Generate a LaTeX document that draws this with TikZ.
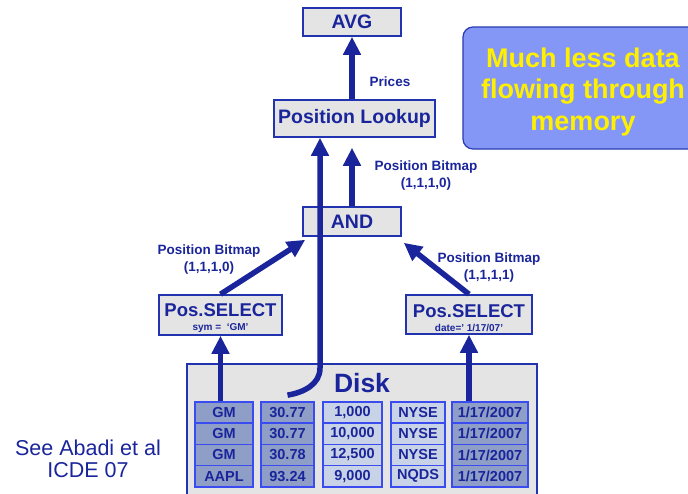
\documentclass[tikz,border=0pt]{standalone}
\usepackage{fontspec}
\setmainfont{Liberation Sans}
\usetikzlibrary{arrows.meta}
\usetikzlibrary{calc}
\definecolor{navy}{HTML}{1A259B}
\definecolor{boxblue}{HTML}{2233B0}
\definecolor{boxgray}{HTML}{E4E4E4}
\definecolor{cellblue}{HTML}{3A4BF0}
\definecolor{celldark}{HTML}{8E9EC6}
\definecolor{celllight}{HTML}{C9D3E7}
\definecolor{callblue}{HTML}{8497F7}
\definecolor{calledge}{HTML}{2A3BB0}
\definecolor{callyellow}{HTML}{FFF000}

\tikzset{
  opbox/.style={draw=boxblue, line width=1.6pt, fill=boxgray, inner sep=0pt,
    text=navy, align=center, font=\bfseries\fontsize{19.5}{21}\selectfont},
  selbox/.style={opbox, font=\bfseries\fontsize{18.5}{20}\selectfont},
  flow/.style={draw=navy, line width=5.5pt, -{Triangle[width=17pt,length=18pt]}},
  lbl/.style={text=navy, align=center, font=\bfseries\fontsize{13.5}{17}\selectfont},
  cell/.style={draw=cellblue, line width=1.4pt, minimum height=21.25pt, inner sep=0pt,
    text=navy, font=\bfseries\fontsize{14.5}{15}\selectfont},
  dcell/.style={cell, fill=celldark},
  lcell/.style={cell, fill=celllight}
}

\begin{document}
\begin{tikzpicture}[x=1pt,y=1pt]
  \useasboundingbox (0,0) rectangle (688,-493);
  \clip (0,0) rectangle (688,-493);

  % operators
  \node[opbox, minimum width=98pt, minimum height=28pt] (avg) at (352,-22) {AVG};
  \node[opbox, minimum width=161pt, minimum height=37pt] (look) at (354.5,-118.5) {Position Lookup};
  \node[opbox, minimum width=98pt, minimum height=29pt] (and) at (352,-221.5) {AND};
  \node[selbox, minimum width=123pt, minimum height=40pt] (lsel) at (220.5,-315)
    {\rule{0pt}{20pt}Pos.SELECT\\[-6pt]{\fontsize{10}{11}\selectfont sym =~ `GM'}};
  \node[selbox, minimum width=126pt, minimum height=39pt] (rsel) at (469,-314.5)
    {\rule{0pt}{20pt}Pos.SELECT\\[-6pt]{\fontsize{10}{11}\selectfont date=' 1/17/07'}};

  % disk with its columns
  \draw[draw=boxblue, line width=1.6pt, fill=boxgray] (187,-364) rectangle (537,-510);
  \node[text=navy, font=\bfseries\fontsize{26.5}{28}\selectfont] (disk) at (362,-383) {Disk};
  \foreach \name/\cx/\w/\sty/\vals in {
      sym/224/58/dcell/{GM,GM,GM,AAPL},
      price/287.5/53/dcell/{30.77,30.77,30.78,93.24},
      vol/352.5/59/lcell/{{1,000},{10,000},{12,500},{9,000}},
      exch/418/54/lcell/{NYSE,NYSE,NYSE,NQDS},
      date/490/76/dcell/{1/17/2007,1/17/2007,1/17/2007,1/17/2007}}{
    \foreach \v [count=\r] in \vals
      \node[\sty, minimum width=\w pt] (\name\r) at (\cx,{-412.5-21.25*(\r-1)}) {\v};
  }

  % flows
  \draw[flow] (avg.south |- look.north) -- (avg.south);
  \node[lbl] (prices) at (390,-82) {Prices};
  \draw[flow, shorten >=10pt] (and.north) -- (and.north |- look.south);
  \node[lbl] (bm1) at (426,-175.5) {Position Bitmap\\(1,1,1,0)};
  \draw[flow] (lsel.north) -- ([shift={(3,-3)}]and.south west);
  \node[lbl] (bm2) at (209,-259.5) {Position Bitmap\\(1,1,1,0)};
  \draw[flow] (rsel.north) -- ([shift={(2,-6)}]and.south east);
  \node[lbl] (bm3) at (489,-267.5) {Position Bitmap\\(1,1,1,1)};
  \coordinate (bend) at (320,-368);
  \draw[flow] ([yshift=6pt]price1.north) to[out=10,in=-90] (bend) -- (bend |- look.south);
  \draw[flow] (lsel.south |- sym1.north) -- (lsel.south);
  \draw[flow] (rsel.south |- date1.north) -- (rsel.south);

  % side notes
  \node[draw=calledge, line width=1.2pt, fill=callblue, rounded corners=10pt,
    minimum width=240pt, minimum height=122pt] (note) at (583,-88) {};
  \node[align=center, text=callyellow, font=\bfseries\fontsize{27}{31.5}\selectfont]
    (notetext) at ([yshift=-4pt]note.center) {Much less data\\flowing through\\memory};
  \node[text=navy, align=center, font=\fontsize{21.5}{22.5}\selectfont] (cite) at (88,-459)
    {See Abadi et al\\ICDE 07};
\end{tikzpicture}
\end{document}
